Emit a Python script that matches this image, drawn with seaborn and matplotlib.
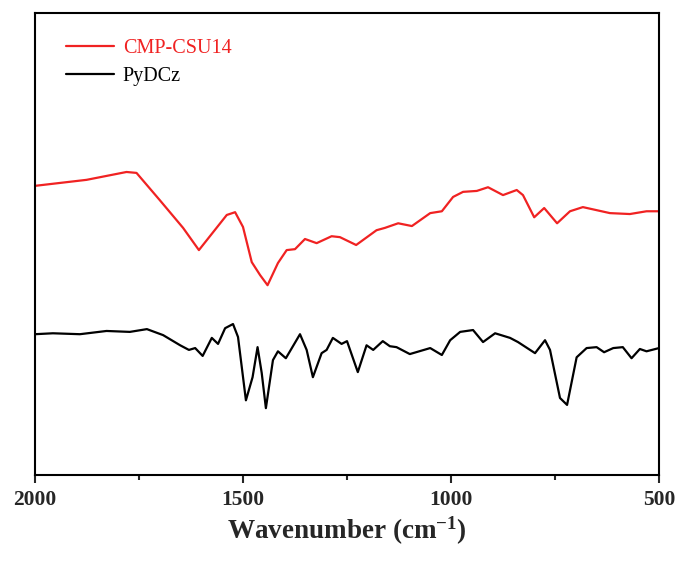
import numpy as np
import pandas as pd
import matplotlib
matplotlib.use("Agg")
import matplotlib.pyplot as plt
from matplotlib.ticker import MultipleLocator
import seaborn as sns

# ====================== data ======================
cmp_wn = [2000, 1876, 1780, 1756, 1700, 1644, 1606, 1539, 1519, 1500, 1479, 1459,
          1441, 1416, 1395, 1375, 1351, 1323, 1287, 1267, 1228, 1179, 1159, 1127,
          1094, 1050, 1022, 995, 971, 938, 911, 875, 842, 827, 800, 776, 745, 714,
          683, 618, 570, 530, 500]
cmp_t = [62.6, 63.9, 65.6, 65.4, 59.5, 53.5, 48.7, 56.3, 56.9, 53.7, 46.1, 43.3,
         41.1, 45.9, 48.7, 48.9, 51.1, 50.2, 51.7, 51.5, 49.8, 53.0, 53.5, 54.5,
         53.9, 56.7, 57.1, 60.2, 61.3, 61.5, 62.3, 60.6, 61.7, 60.6, 55.8, 57.8,
         54.5, 57.1, 58.0, 56.7, 56.5, 57.1, 57.1]

pydcz_wn = [2000, 1957, 1892, 1828, 1772, 1731, 1692, 1651, 1630, 1615, 1597, 1575,
            1560, 1543, 1524, 1512, 1493, 1477, 1465, 1455, 1445, 1428, 1416, 1397,
            1363, 1347, 1332, 1311, 1299, 1284, 1263, 1250, 1224, 1203, 1187, 1164,
            1147, 1131, 1099, 1050, 1022, 1002, 978, 947, 923, 894, 858, 839, 798,
            774, 762, 738, 721, 698, 674, 650, 632, 610, 587, 566, 546, 530, 500]
pydcz_t = [30.5, 30.7, 30.5, 31.2, 31.0, 31.6, 30.3, 28.1, 27.1, 27.5, 25.8, 29.7,
           28.4, 31.8, 32.7, 29.9, 16.2, 21.2, 27.7, 22.1, 14.5, 24.9, 26.8, 25.3,
           30.5, 27.1, 21.2, 26.4, 27.1, 29.7, 28.4, 29.0, 22.3, 28.1, 27.1, 29.0,
           27.9, 27.7, 26.2, 27.5, 26.0, 29.2, 31.0, 31.4, 28.8, 30.7, 29.7, 28.8,
           26.4, 29.2, 27.1, 16.7, 15.2, 25.5, 27.5, 27.7, 26.6, 27.5, 27.7, 25.3,
           27.3, 26.8, 27.5]

labels = ["CMP-CSU14", "PyDCz"]
colors = ["#f02222", "black"]

df = pd.concat([
    pd.DataFrame({"wn": cmp_wn, "T": cmp_t, "sample": labels[0]}),
    pd.DataFrame({"wn": pydcz_wn, "T": pydcz_t, "sample": labels[1]}),
])

# ====================== plot ======================
sns.set_style("ticks")
plt.rcParams["font.family"] = ["Liberation Serif", "DejaVu Serif"]
plt.rcParams["mathtext.fontset"] = "custom"
plt.rcParams["mathtext.rm"] = "Liberation Serif:bold"
plt.rcParams["mathtext.bf"] = "Liberation Serif:bold"
plt.rcParams["mathtext.default"] = "bf"

fig = plt.figure(figsize=(6.81, 5.65), dpi=100)
ax = fig.add_axes([0.0514, 0.159, 0.9163, 0.818])

sns.lineplot(data=df, x="wn", y="T", hue="sample", palette=dict(zip(labels, colors)),
             linewidth=1.6, sort=False, estimator=None, ax=ax)

ax.set_xlim(2000, 500)
ax.set_ylim(0, 100)
ax.xaxis.set_major_locator(MultipleLocator(500))
ax.xaxis.set_minor_locator(MultipleLocator(250))
ax.set_yticks([])
ax.tick_params(axis="x", which="major", length=6, width=1.5, direction="out", labelsize=15.5, pad=5)
ax.tick_params(axis="x", which="minor", length=3.5, width=1.5, direction="out")
for lbl in ax.get_xticklabels():
    lbl.set_fontweight("bold")
for spine in ax.spines.values():
    spine.set_visible(True)
    spine.set_color("black")
    spine.set_linewidth(1.5)

ax.set_xlabel("Wavenumber (cm$^{-1}$)", fontsize=19.5, fontweight="bold", labelpad=3)
ax.set_ylabel("")

leg = ax.legend(loc="upper left", frameon=False, fontsize=14.5, handlelength=2.4,
                handletextpad=0.45, labelspacing=0.45, borderaxespad=0.0,
                bbox_to_anchor=(0.036, 0.962))
for txt, c in zip(leg.get_texts(), colors):
    txt.set_color(c)

plt.savefig("out.png", dpi=100)
plt.close()
